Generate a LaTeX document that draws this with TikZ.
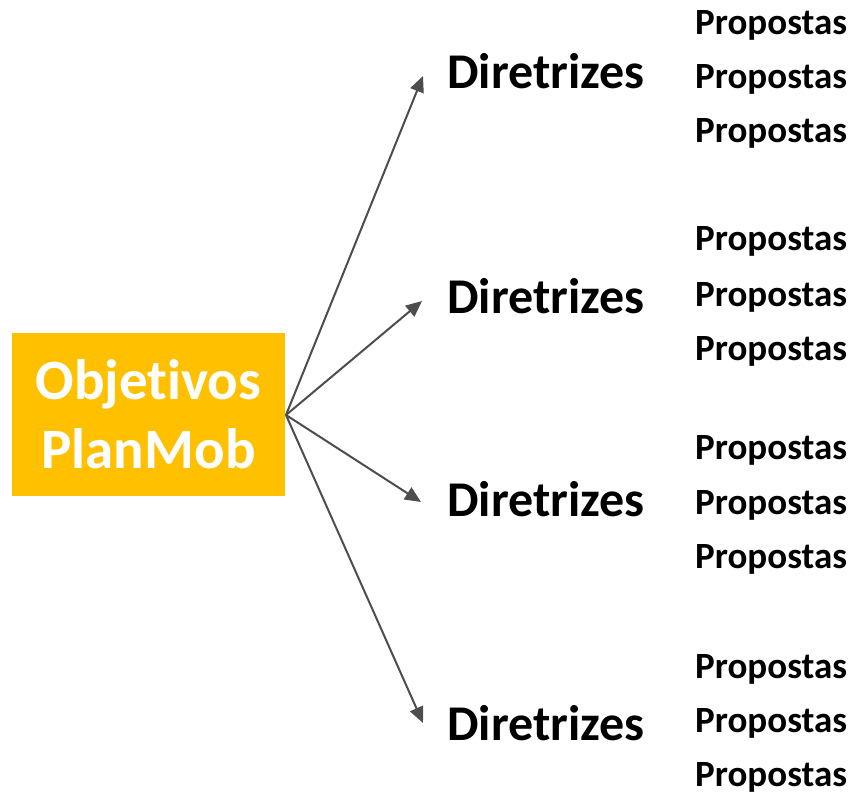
\documentclass[tikz,border=0pt]{standalone}
\usepackage{fontspec}
\setmainfont[RawFeature=-liga]{Carlito}
\usetikzlibrary{arrows.meta}
\definecolor{boxorange}{HTML}{FFC000}
\definecolor{linegray}{HTML}{4D4D4D}
\begin{document}
\begin{tikzpicture}[x=1pt,y=-1pt,
  goal/.style={font=\fontsize{57}{69}\selectfont\bfseries, text=white, align=center, inner sep=0pt},
  dir/.style={font=\fontsize{50}{58}\selectfont\bfseries, anchor=base west, inner sep=0pt},
  prop/.style={font=\fontsize{37}{42}\selectfont\bfseries, anchor=base west, inner sep=0pt},
  conn/.style={draw=linegray, line width=2pt, -{Triangle[length=16pt,width=14pt]}, shorten >=0pt}
]
\useasboundingbox (0,0) rectangle (852,797);
\fill[boxorange] (12,333) rectangle (285,496);
\coordinate (src) at (286,415);
\node[goal] (obj) at (148.5,414) {Objetivos\\PlanMob};
% Diretrizes
\node[dir] (d1) at (447,89) {Diretrizes};
\node[dir] (d2) at (447,313) {Diretrizes};
\node[dir] (d3) at (447,516) {Diretrizes};
\node[dir] (d4) at (447,740) {Diretrizes};
\coordinate (t1) at (423,76);
\coordinate (t2) at (422,301);
\coordinate (t3) at (421,502);
\coordinate (t4) at (423,723);
\foreach \i in {1,2,3,4} \draw[conn] (src) -- (t\i);
% Propostas
\foreach \n/\y in {p11/35,p12/89,p13/143,p21/251,p22/306,p23/360,p31/459,p32/514,p33/568,p41/678,p42/732,p43/786}
  \node[prop] (\n) at (695,\y) {Propostas};
\end{tikzpicture}
\end{document}
